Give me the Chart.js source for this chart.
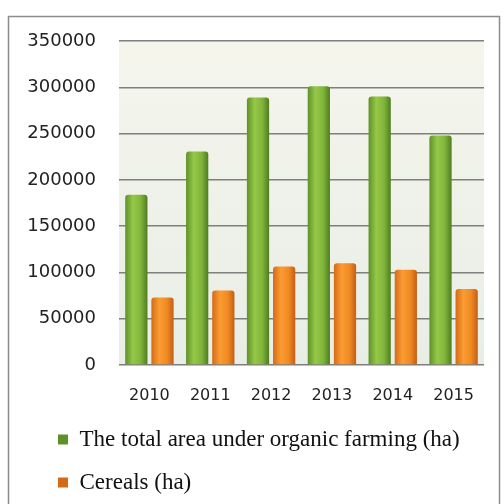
<!DOCTYPE html>
<html><head><meta charset="utf-8">
<script src="https://cdn.jsdelivr.net/npm/chart.js@4/dist/chart.umd.min.js"></script>
<style>html,body{margin:0;padding:0;background:#fff;overflow:hidden}#wrap{width:504px;height:504px;position:relative}</style>
</head><body><div id="wrap"><canvas id="c" width="504" height="504"></canvas></div>
<script>
const years = ['2010', '2011', '2012', '2013', '2014', '2015'];
const totalOrganic = [184000, 230500, 289000, 301000, 290000, 248000];
const cereals = [72800, 80400, 106400, 110000, 102800, 82000];
const seriesLabels = ['The total area under organic farming (ha)', 'Cereals (ha)'];
const yMax = 350000;
const yStep = 50000;

function barFill(stops, solid) {
  return (ctx) => {
    if (ctx.type !== 'data') return solid;
    const el = ctx.element;
    if (!el || typeof el.x !== 'number' || !el.width) return solid;
    const g = ctx.chart.ctx.createLinearGradient(el.x - el.width / 2, 0, el.x + el.width / 2, 0);
    stops.forEach(([o, c]) => g.addColorStop(o, c));
    return g;
  };
}

const frame = {
  id: 'frame',
  afterLayout(chart) {
    if (chart.legend) chart.legend.left = 38;
  },
  beforeDraw(chart) {
    const c = chart.ctx, a = chart.chartArea;
    c.save();
    c.fillStyle = '#ffffff';
    c.fillRect(0, 0, chart.width, chart.height);
    c.strokeStyle = '#8c8c8c';
    c.lineWidth = 1.5;
    c.strokeRect(8.5, 16.5, 491, 520);
    const g = c.createLinearGradient(0, a.top, 0, a.bottom);
    g.addColorStop(0, '#f5f5ec');
    g.addColorStop(1, '#e8eee6');
    c.fillStyle = g;
    c.fillRect(a.left, a.top, a.right - a.left, a.bottom - a.top);
    c.restore();
  }
};

const chart = new Chart(document.getElementById('c'), {
  type: 'bar',
  data: {
    labels: years,
    datasets: [
      {
        label: seriesLabels[0],
        data: totalOrganic,
        backgroundColor: barFill([[0, '#5f9128'], [0.35, '#96c848'], [0.7, '#80b43a'], [1, '#4f7c20']], '#7fb23a'),
        borderWidth: 0,
        borderRadius: { topLeft: 3, topRight: 3 },
        borderSkipped: 'bottom'
      },
      {
        label: seriesLabels[1],
        data: cereals,
        backgroundColor: barFill([[0, '#d46a16'], [0.35, '#fb9c32'], [0.7, '#f08a22'], [1, '#c45e16']], '#ee8624'),
        borderWidth: 0,
        borderRadius: { topLeft: 3, topRight: 3 },
        borderSkipped: 'bottom'
      }
    ]
  },
  options: {
    responsive: false,
    animation: false,
    categoryPercentage: 0.86,
    barPercentage: 0.85,
    layout: { padding: { top: 41, left: 16, right: 20, bottom: 0 } },
    plugins: {
      legend: {
        position: 'bottom',
        align: 'start',
        labels: {
          boxWidth: 10,
          boxHeight: 10,
          padding: 20,
          color: '#111111',
          font: { family: '"Liberation Serif", "Times New Roman", serif', size: 23 }
        }
      },
      tooltip: { enabled: false }
    },
    scales: {
      x: {
        afterFit(scale) { scale.height = 43; },
        grid: { display: false, drawTicks: false },
        border: { display: false },
        ticks: {
          color: '#222222',
          padding: 19,
          maxRotation: 0,
          font: { family: '"DejaVu Sans", sans-serif', size: 16, lineHeight: 1.5 }
        }
      },
      y: {
        min: 0,
        max: yMax,
        afterFit(scale) { scale.width = 103; },
        grid: { color: '#7f7f7f', lineWidth: 1.5, drawTicks: false },
        border: { display: false },
        ticks: {
          stepSize: yStep,
          padding: 23,
          color: '#222222',
          font: { family: '"DejaVu Sans", sans-serif', size: 18 },
          callback: (v) => String(v)
        }
      }
    }
  },
  plugins: [frame]
});
chart.update('none');
</script></body></html>
